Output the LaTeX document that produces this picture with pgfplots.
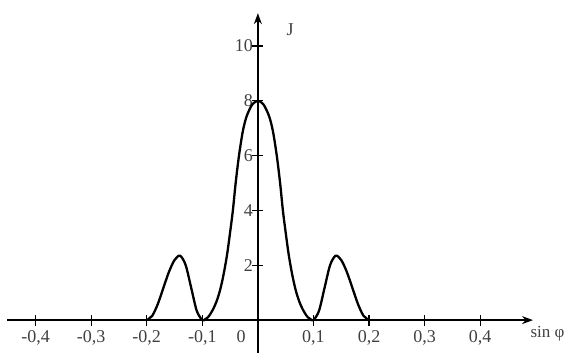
\documentclass[border=0pt]{standalone}
\usepackage{pgfplots}
\pgfplotsset{compat=1.18}
\usepackage{fontspec}
\setmainfont{Liberation Serif}
\usetikzlibrary{arrows.meta}
\begin{document}
\begin{tikzpicture}
\begin{axis}[
  scale only axis,
  width=526pt, height=340pt,
  xmin=-0.451, xmax=0.495, ymin=-1.2, ymax=11.2,
  axis lines=middle,
  axis line style={line width=1.4pt},
  x axis line style={-{Stealth[length=11pt,width=8pt]}},
  y axis line style={-{Stealth[length=11pt,width=8pt]}},
  clip=false,
  tick align=center,
  major tick length=11pt,
  tick style={line width=1.2pt, black},
  xtick={-0.4,-0.3,-0.2,-0.1,0.1,0.2,0.3,0.4},
  xticklabels={{-0,4},{-0,3},{-0,2},{-0,1},{0,1},{0,2},{0,3},{0,4}},
  ytick={2,4,6,8,10},
  yticklabels={2,4,6,8,10},
  tick label style={font=\fontsize{18}{20}\selectfont, text=black!75},
  xticklabel style={yshift=-1pt},
  yticklabel style={xshift=4pt},
]
\addplot[black, line width=2.3pt, smooth, tension=0.5] coordinates {
 (-0.2,0) (-0.19,0.16) (-0.18,0.59) (-0.17,1.18) (-0.16,1.76) (-0.15,2.19) (-0.14,2.35)
 (-0.13,2.01) (-0.12,1.18) (-0.11,0.34) (-0.1,0)
 (-0.095,0.03) (-0.09,0.1) (-0.085,0.24) (-0.08,0.42) (-0.075,0.65) (-0.07,0.95)
 (-0.065,1.35) (-0.06,1.85) (-0.055,2.45) (-0.05,3.2) (-0.045,4.0)
 (-0.04,5.0) (-0.034,6.0) (-0.027,6.9) (-0.02,7.45) (-0.01,7.87) (0,8.0)
 (0.01,7.87) (0.02,7.45) (0.027,6.9) (0.034,6.0) (0.04,5.0) (0.045,4.0) (0.05,3.2)
 (0.055,2.45) (0.06,1.85) (0.065,1.35) (0.07,0.95) (0.075,0.65) (0.08,0.42)
 (0.085,0.24) (0.09,0.1) (0.095,0.03) (0.1,0)
 (0.11,0.34) (0.12,1.18) (0.13,2.01) (0.14,2.35) (0.15,2.19) (0.16,1.76) (0.17,1.18)
 (0.18,0.59) (0.19,0.16) (0.2,0)
};
\node[font=\fontsize{18}{20}\selectfont, text=black!75] at (axis cs:-0.03,-0.62) {0};
\node[font=\fontsize{18}{20}\selectfont, text=black!75] at (axis cs:0.058,10.6) {J};
\node[font=\fontsize{17}{19}\selectfont, text=black!75, anchor=east] at (axis cs:0.558,-0.5) {sin φ};
\path (axis cs:-0.464,11.68) rectangle (axis cs:0.558,-1.2);
\end{axis}
\end{tikzpicture}
\end{document}
